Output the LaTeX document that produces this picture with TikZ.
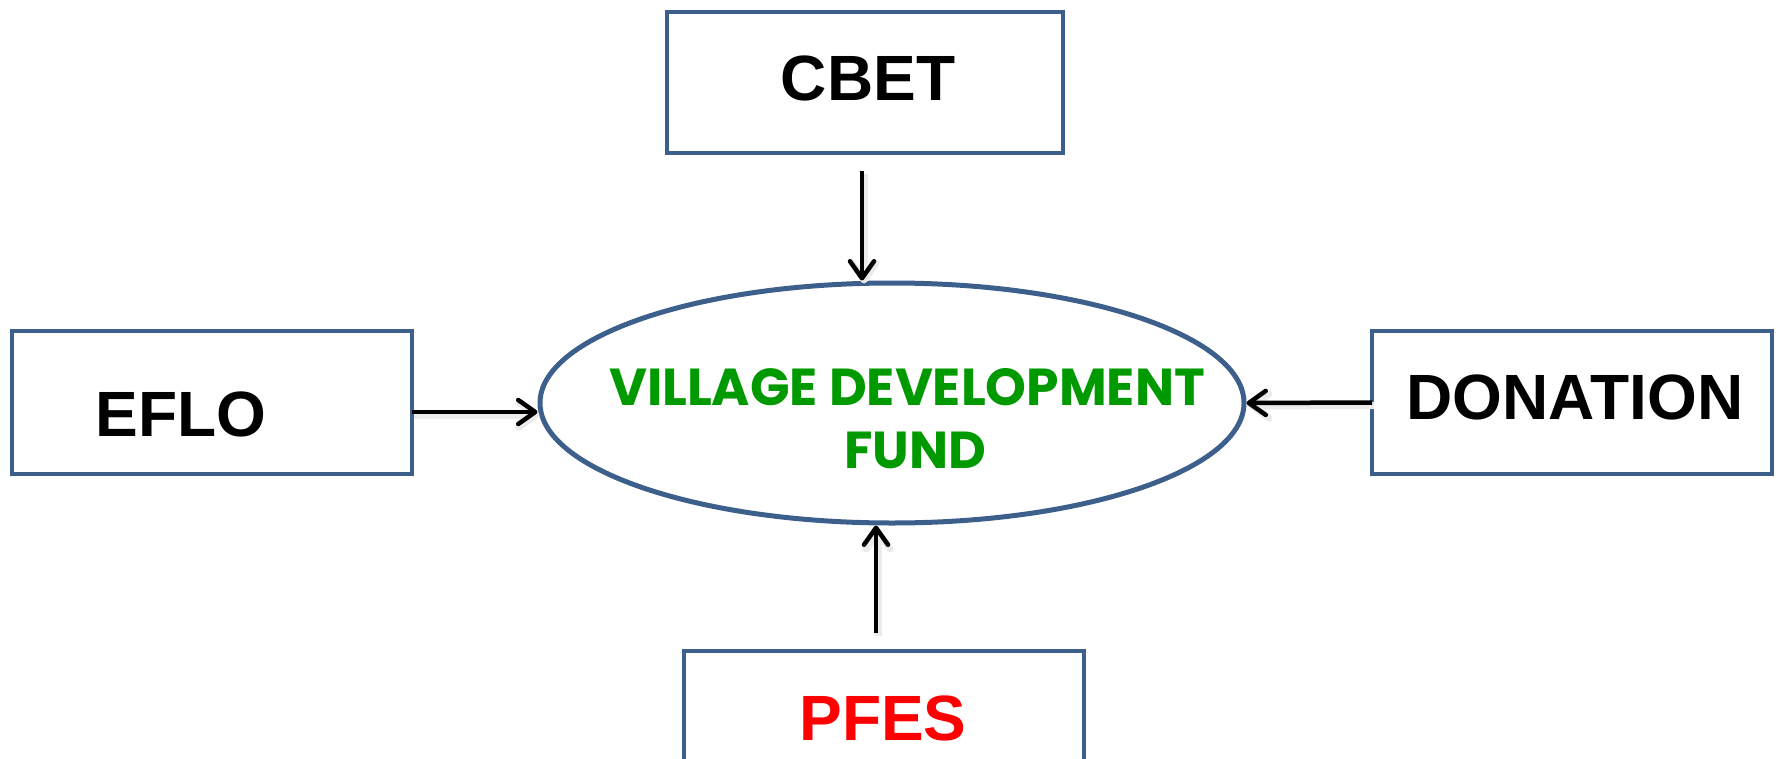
\documentclass[tikz,border=0pt]{standalone}
\usepackage{fontspec}
\setmainfont{Liberation Sans}
\newfontfamily\popp{Poppins}
\usetikzlibrary{arrows.meta,shapes.geometric}
\definecolor{boxblue}{HTML}{3D5F8C}
\definecolor{vdfgreen}{HTML}{009900}
\definecolor{pfesred}{HTML}{FF0000}
\begin{document}
\begin{tikzpicture}[x=1bp,y=-1bp,
  box/.style={draw=boxblue,line width=4.5bp,rectangle,inner sep=0pt,outer sep=0pt,
    minimum width=400bp,minimum height=143bp},
  lbl/.style={anchor=base,inner sep=0pt,font=\fontsize{64bp}{70bp}\selectfont\bfseries},
  gtxt/.style={anchor=base,inner sep=0pt,text=vdfgreen,font=\popp\fontsize{52bp}{60bp}\selectfont\bfseries},
  arr/.style={draw=black,line width=4.5bp,
    -{Straight Barb[length=17bp,width=24bp,round]},
    preaction={draw=black!8,line width=7bp,transform canvas={shift={(2bp,-3bp)}}}}]
\useasboundingbox (0,0) rectangle (1779,759);
\node[box,minimum width=396bp,minimum height=141bp] (cbet) at (865,82.5) {};
\node[lbl] (cbett) at (868,100) {CBET};
\node[box] (eflo) at (212,402.5) {};
\node[lbl] (eflot) at (181,436) {EFLO};
\node[box] (don) at (1572,402.5) {};
\node[lbl] (dont) at (1575,419) {DONATION};
\node[box] (pfes) at (884,722.5) {};
\node[lbl,text=pfesred] (pfest) at (883,740) {PFES};
\node[ellipse,draw=boxblue,line width=5bp,minimum width=704bp,minimum height=240bp,inner sep=0pt] (vdf) at (892,403) {};
\node[gtxt] (l1) at (907,405) {VILLAGE DEVELOPMENT};
\node[gtxt] (l2) at (915,468) {FUND};
\coordinate (ca) at ([xshift=-3bp,yshift=-18bp]cbet.south);
\draw[arr] (ca) -- (ca |- vdf.north);
\coordinate (pa) at ([xshift=-8bp,yshift=18bp]pfes.north);
\draw[arr] (pa) -- (pa |- vdf.south);
\coordinate (ea) at ([yshift=-9.5bp]eflo.east);
\draw[arr] (ea) -- (ea -| vdf.west);
\draw[arr] (don.west) -- (vdf.east);
\end{tikzpicture}
\end{document}
